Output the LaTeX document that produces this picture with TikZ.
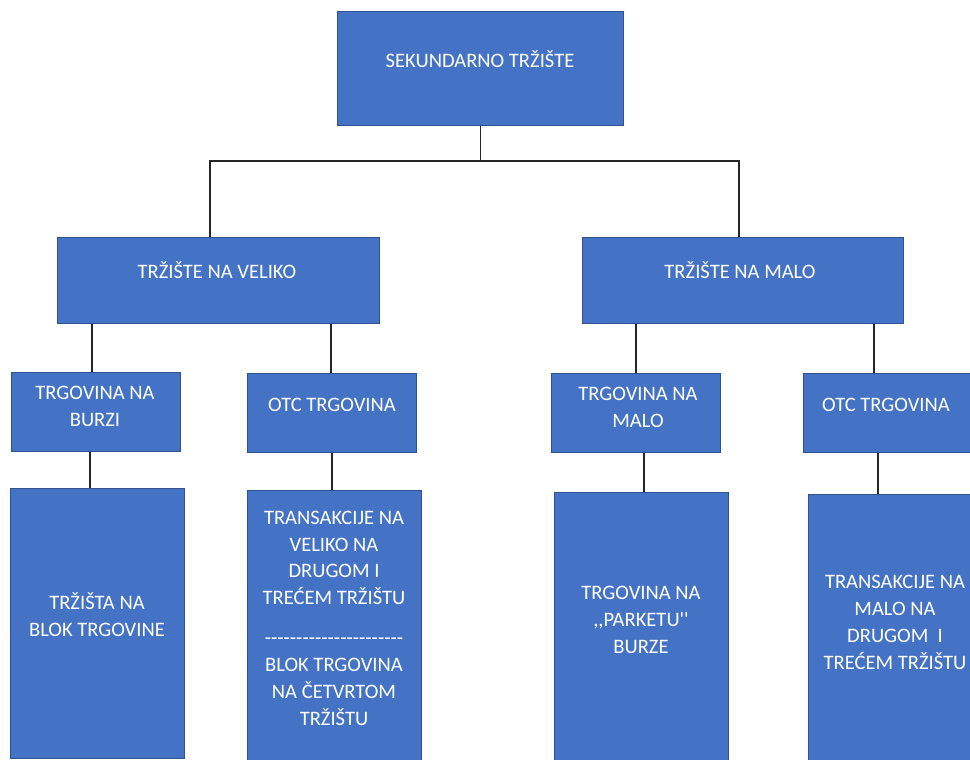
\documentclass[tikz,border=0pt]{standalone}
\usepackage{fontspec}
\newfontfamily\boxfont{Carlito}
\usetikzlibrary{positioning}
\definecolor{boxblue}{HTML}{4472C4}
\definecolor{boxedge}{HTML}{2F528F}
\tikzset{
    box/.style={draw=boxedge, fill=boxblue, line width=0.6pt, anchor=north west, inner sep=0pt},
    txt/.style={text=white, align=center, inner sep=0pt, text height=7.4pt, text depth=0pt,
        font=\boxfont\fontsize{11.7}{15.3}\selectfont},
    link/.style={draw=black!85, line width=0.75pt}
}

\begin{document}
\begin{tikzpicture}[x=0.02cm, y=-0.02cm]
        \useasboundingbox (0,0) rectangle (970,760);
        \clip (0,0) rectangle (970,760);

        \node[box, minimum width=5.72cm, minimum height=2.28cm] (sek) at (337,11) {};
        \node[box, minimum width=6.44cm, minimum height=1.72cm] (veliko) at (57,237) {};
        \node[box, minimum width=6.42cm, minimum height=1.72cm] (malo) at (582,237) {};

        \node[box, minimum width=3.38cm, minimum height=1.58cm] (burzi) at (11,372) {};
        \node[box, minimum width=3.38cm, minimum height=1.58cm] (otcl) at (247,373) {};
        \node[box, minimum width=3.38cm, minimum height=1.58cm] (tmalo) at (551,373) {};
        \node[box, minimum width=3.38cm, minimum height=1.58cm] (otcr) at (803,373) {};

        \node[box, minimum width=3.48cm, minimum height=5.40cm] (blok) at (10,488) {};
        \node[box, minimum width=3.48cm, minimum height=5.70cm] (trv) at (247,490) {};
        \node[box, minimum width=3.48cm, minimum height=5.66cm] (park) at (554,492) {};
        \node[box, minimum width=3.48cm, minimum height=5.62cm] (trm) at (808,494) {};

        \draw[link] (sek.south) -- (sek.south |- 0,161) coordinate (fork);
        \draw[link] (veliko.north -| 210,0) |- (fork) -| (malo.north -| 739,0);

        \foreach \up/\down/\x in {veliko/burzi/92, veliko/otcl/331, malo/tmalo/636, malo/otcr/874,
            burzi/blok/90, otcl/trv/332, tmalo/park/644, otcr/trm/878}
        \draw[link] (\up.south -| \x,0) -- (\down.north -| \x,0);

        % text nodes sit on the centre of their last line
        \node[txt] (sekt) at (480,61) {SEKUNDARNO TRŽIŠTE};
        \node[txt] (velikot) at (217,272) {TRŽIŠTE NA VELIKO};
        \node[txt] (malot) at (740,272) {TRŽIŠTE NA MALO};

        \node[txt] (burzit) at (95,420) {TRGOVINA NA\\BURZI};
        \node[txt] (otclt) at (332,405) {OTC TRGOVINA};
        \node[txt] (tmalot) at (638,421) {TRGOVINA NA\\MALO};
        \node[txt] (otcrt) at (886,405) {OTC TRGOVINA};

        \node[txt] (blokt) at (97,630) {TRŽIŠTA NA\\BLOK TRGOVINE};
        \node[txt] (trvt) at (334,719) {TRANSAKCIJE NA\\VELIKO NA\\DRUGOM I\\TREĆEM TRŽIŠTU\\[7.5pt]
            ----------------------\\BLOK TRGOVINA\\NA ČETVRTOM\\TRŽIŠTU};
        \node[txt] (parkt) at (641,647) {TRGOVINA NA\\,,PARKETU''\\BURZE};
        \node[txt] (trmt) at (895,663) {TRANSAKCIJE NA\\MALO NA\\DRUGOM\ \ I\\TREĆEM TRŽIŠTU};

    \end{tikzpicture}
\end{document}
